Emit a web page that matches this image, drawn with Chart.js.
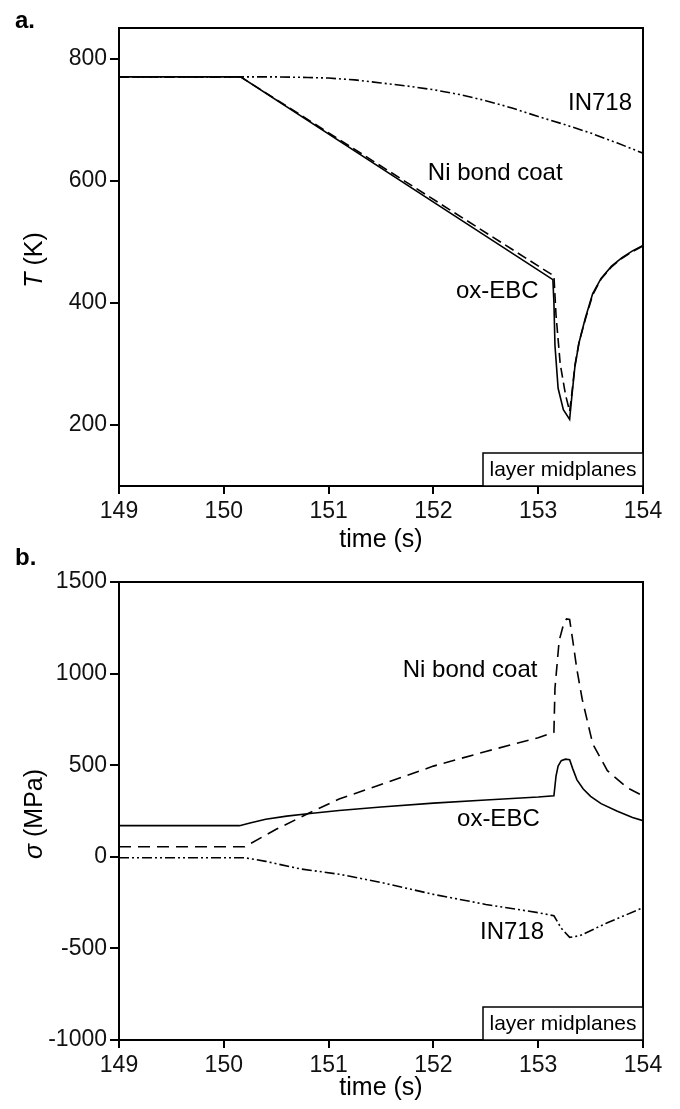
<!DOCTYPE html>
<html>
<head>
<meta charset="utf-8">
<script src="https://cdn.jsdelivr.net/npm/chart.js@4.4.1/dist/chart.umd.min.js"></script>
<style>
  html, body { margin: 0; padding: 0; background: #fff; }
  canvas { position: absolute; left: 0; }
  #chartA { top: 0; z-index: 1; }
  #chartB { top: 548px; z-index: 2; }
</style>
</head>
<body>
<canvas id="chartA" width="680" height="560"></canvas>
<canvas id="chartB" width="680" height="561"></canvas>
<script>
// tick labels
const timeTicks = [149, 150, 151, 152, 153, 154];
const tempTicks = [200, 400, 600, 800];
const stressTicks = [-1000, -500, 0, 500, 1000, 1500];

// a. temperature at the layer midplanes (K)
const tOxTemp = [149, 150.16, 153.14, 153.15, 153.16, 153.19, 153.24, 153.30, 153.32, 153.35, 153.39, 153.45, 153.52, 153.6, 153.7, 153.8, 153.9, 154];
const oxTemp  = [770, 770, 438, 400, 330, 260, 225, 209, 245, 295, 335, 375, 415, 440, 460, 474, 485, 494];

const tNiTemp = [149, 150.16, 153.15, 153.17, 153.21, 153.26, 153.30, 153.32, 153.35, 153.39, 153.45, 153.52, 153.6, 153.7, 153.8, 153.9, 154];
const niTemp  = [770, 770, 444, 380, 300, 250, 222, 250, 297, 336, 373, 413, 439, 459, 473, 484, 493];

const tInTemp = [149, 150.16, 150.5, 150.8, 151, 151.25, 151.5, 151.75, 152, 152.25, 152.5, 152.75, 153, 153.25, 153.5, 153.75, 154];
const inTemp  = [770, 770, 770, 769, 768, 765, 760, 755, 749, 741, 731, 719, 705, 692, 678, 662, 645];

// b. stress at the layer midplanes (MPa)
const tOxStress = [149, 150.15, 150.25, 150.4, 150.6, 150.8, 151.1, 151.5, 152, 152.5, 153, 153.15, 153.17, 153.19, 153.22, 153.26, 153.3, 153.33, 153.37, 153.43, 153.5, 153.6, 153.75, 153.9, 154];
const oxStress  = [170, 170, 185, 205, 222, 235, 253, 272, 293, 310, 326, 333, 440, 495, 525, 533, 530, 480, 420, 370, 330, 290, 250, 215, 197];

const tNiStress = [149, 150.2, 150.5, 150.8, 151.1, 151.5, 152, 152.5, 153, 153.15, 153.16, 153.2, 153.24, 153.27, 153.3, 153.33, 153.37, 153.42, 153.52, 153.66, 153.85, 154];
const niStress  = [55, 55, 150, 235, 315, 395, 495, 575, 650, 680, 920, 1180, 1265, 1298, 1295, 1180, 1020, 860, 617, 470, 377, 333];

const tInStress = [149, 150.2, 150.4, 150.73, 151.1, 151.5, 152, 152.5, 153, 153.15, 153.22, 153.3, 153.4, 153.66, 154];
const inStress  = [-5, -5, -25, -66, -95, -140, -205, -260, -305, -322, -390, -440, -430, -360, -278];

const FONT = '"Liberation Sans", Arial, sans-serif';
const dashDotDot = [10, 3, 2, 3, 2, 3];

function pts(ts, vs) {
  return ts.map((t, i) => ({ x: t, y: vs[i] }));
}

// frame, panel letter, axis titles, curve labels and the "layer midplanes" box
function decor(cfg) {
  return {
    id: 'decor',
    afterDraw(chart) {
      const ctx = chart.ctx;
      const a = chart.chartArea;
      const xs = chart.scales.x, ys = chart.scales.y;
      ctx.save();
      ctx.strokeStyle = '#000';
      ctx.lineWidth = 2;
      ctx.beginPath();
      ctx.moveTo(a.left, a.top);
      ctx.lineTo(a.right, a.top);
      ctx.lineTo(a.right, a.bottom);
      ctx.stroke();

      ctx.fillStyle = '#000';
      ctx.font = 'bold 24px ' + FONT;
      ctx.textAlign = 'left';
      ctx.textBaseline = 'alphabetic';
      ctx.fillText(cfg.panel, 15, cfg.panelY);

      // curve labels
      ctx.font = '24px ' + FONT;
      ctx.textAlign = 'center';
      ctx.textBaseline = 'middle';
      cfg.labels.forEach(l => ctx.fillText(l.text, xs.getPixelForValue(l.x), ys.getPixelForValue(l.y)));

      // layer midplanes box
      ctx.lineWidth = 1.5;
      ctx.fillStyle = '#fff';
      ctx.fillRect(a.right - 160, a.bottom - 33, 160, 33);
      ctx.strokeRect(a.right - 160, a.bottom - 33, 160, 33);
      ctx.fillStyle = '#000';
      ctx.font = '21px ' + FONT;
      ctx.fillText('layer midplanes', a.right - 80, a.bottom - 16);

      // x title
      ctx.font = '25px ' + FONT;
      ctx.fillText('time (s)', (a.left + a.right) / 2, 540);

      // y title, italic symbol + unit
      ctx.translate(35, (a.top + a.bottom) / 2 + 3);
      ctx.rotate(-Math.PI / 2);
      ctx.textAlign = 'left';
      ctx.font = 'italic 25px ' + FONT;
      const w1 = ctx.measureText(cfg.sym).width;
      ctx.font = '25px ' + FONT;
      const w2 = ctx.measureText(cfg.unit).width;
      let x0 = -(w1 + w2) / 2;
      ctx.font = 'italic 25px ' + FONT;
      ctx.fillText(cfg.sym, x0, 0);
      ctx.font = '25px ' + FONT;
      ctx.fillText(cfg.unit, x0 + w1, 0);
      ctx.restore();
    }
  };
}

function makeChart(id, cfg) {
  const h = document.getElementById(id).height;
  return new Chart(document.getElementById(id), {
    type: 'line',
    data: {
      datasets: cfg.series.map(s => ({
        label: s.name,
        data: pts(s.t, s.v),
        borderColor: '#000',
        borderWidth: 1.6,
        borderDash: s.dash,
        pointRadius: 0,
        fill: false,
        tension: 0
      }))
    },
    options: {
      responsive: false,
      animation: false,
      layout: { padding: { top: cfg.top, right: 37, left: 0, bottom: 0 } },
      plugins: { legend: { display: false }, tooltip: { enabled: false } },
      scales: {
        x: {
          type: 'linear',
          min: 149,
          max: 154,
          afterBuildTicks: s => { s.ticks = timeTicks.map(v => ({ value: v })); },
          afterFit: s => { s.height = h - cfg.bottom; },
          grid: { drawOnChartArea: false, color: '#000', lineWidth: 2, tickLength: 8 },
          border: { color: '#000', width: 2 },
          ticks: { color: '#111', font: { family: FONT, size: 23 }, padding: 4, maxRotation: 0, autoSkip: false,
                   callback: v => String(v) }
        },
        y: {
          type: 'linear',
          min: cfg.ymin,
          max: cfg.ymax,
          afterBuildTicks: s => { s.ticks = cfg.yTicks.map(v => ({ value: v })); },
          afterFit: s => { s.width = 119; },
          grid: { drawOnChartArea: false, color: '#000', lineWidth: 2, tickLength: 9 },
          border: { color: '#000', width: 2 },
          ticks: { color: '#111', font: { family: FONT, size: 23 }, padding: 3, autoSkip: false,
                   callback: v => String(v) }
        }
      }
    },
    plugins: [decor(cfg)]
  });
}

makeChart('chartA', {
  top: 28, bottom: 486, ymin: 100, ymax: 850, yTicks: tempTicks,
  panel: 'a.', panelY: 28, sym: 'T', unit: ' (K)',
  series: [
    { name: 'ox-EBC', t: tOxTemp, v: oxTemp, dash: [] },
    { name: 'Ni bond coat', t: tNiTemp, v: niTemp, dash: [10, 5] },
    { name: 'IN718', t: tInTemp, v: inTemp, dash: dashDotDot }
  ],
  labels: [
    { text: 'IN718', x: 153.59, y: 726 },
    { text: 'Ni bond coat', x: 152.59, y: 612 },
    { text: 'ox-EBC', x: 152.61, y: 418 }
  ]
});

makeChart('chartB', {
  top: 34, bottom: 492, ymin: -1000, ymax: 1500, yTicks: stressTicks,
  panel: 'b.', panelY: 17, sym: 'σ', unit: ' (MPa)',
  series: [
    { name: 'ox-EBC', t: tOxStress, v: oxStress, dash: [] },
    { name: 'Ni bond coat', t: tNiStress, v: niStress, dash: [12, 7] },
    { name: 'IN718', t: tInStress, v: inStress, dash: dashDotDot }
  ],
  labels: [
    { text: 'Ni bond coat', x: 152.35, y: 1015 },
    { text: 'ox-EBC', x: 152.62, y: 207 },
    { text: 'IN718', x: 152.75, y: -415 }
  ]
});
</script>
</body>
</html>
